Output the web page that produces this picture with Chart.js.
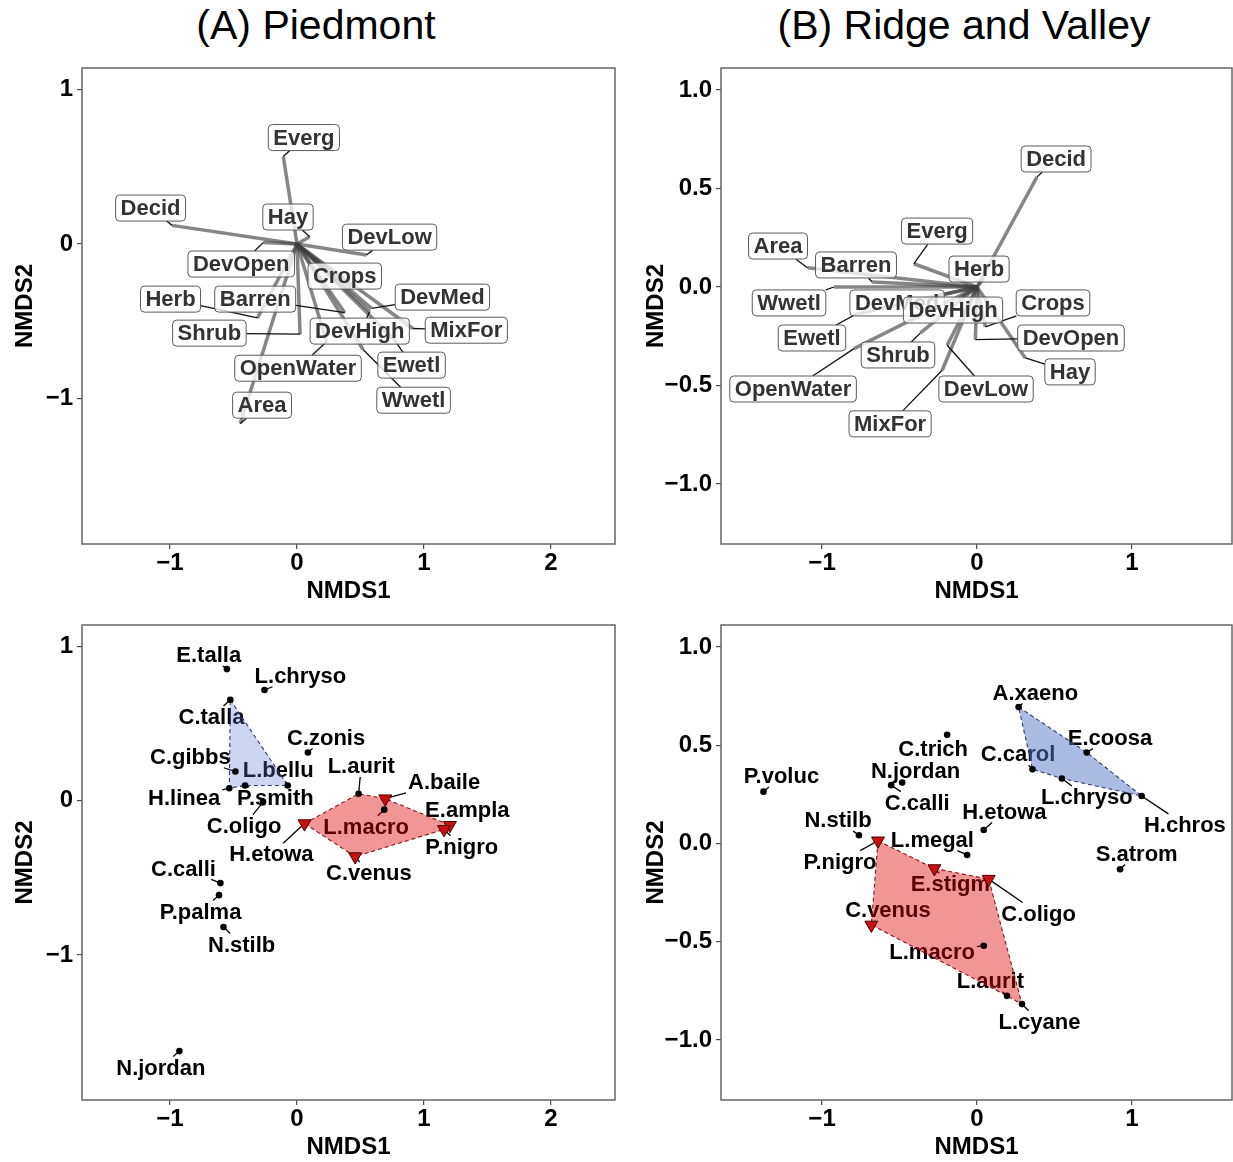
<!DOCTYPE html>
<html>
<head>
<meta charset="utf-8">
<script src="https://cdn.jsdelivr.net/npm/chart.js@4.4.0/dist/chart.umd.min.js"></script>
<style>
  html, body { margin: 0; padding: 0; background: #fff; width: 1233px; height: 1162px; overflow: hidden; }
  canvas { position: absolute; }
  .ptitle { position: absolute; top: 2px; width: 600px; text-align: center; font-family: "Liberation Sans", Arial, Helvetica, sans-serif; font-size: 41px; line-height: 46px; color: #000; }
</style>
</head>
<body>
<div class="ptitle" style="left:16px">(A) Piedmont</div>
<div class="ptitle" style="left:664px">(B) Ridge and Valley</div>
<canvas id="envA" width="632" height="560" style="left:0px;top:60px"></canvas>
<canvas id="envB" width="593" height="560" style="left:640px;top:60px"></canvas>
<canvas id="sppA" width="632" height="547" style="left:0px;top:615px"></canvas>
<canvas id="sppB" width="593" height="547" style="left:640px;top:615px"></canvas>
<script>
// ---------- Environmental vectors: Piedmont ----------
const piedVecNames = ['Everg','Decid','Hay','DevLow','DevOpen','Crops','DevMed','MixFor','Ewetl','Barren','Herb','Shrub','OpenWater','Wwetl','Area','DevHigh'];
const piedVecX = [-0.108,-0.984,0.100,0.547,-0.264,0.429,0.586,0.912,0.769,0.376,-0.311,0.024,0.233,0.520,-0.447,0.573];
const piedVecY = [0.566,0.121,0.047,-0.071,0.011,-0.276,-0.416,-0.546,-0.621,-0.444,-0.477,-0.583,-0.632,-0.682,-1.160,-0.438];

// ---------- Environmental vectors: Ridge and Valley ----------
const ridgeVecNames = ['Decid','Everg','Area','Barren','Herb','Wwetl','DevMed','Ewetl','Crops','DevOpen','Hay','Shrub','OpenWater','DevLow','MixFor','DevHigh'];
const ridgeVecX = [0.386,-0.408,-1.094,-0.676,0.043,-0.923,-0.350,-0.783,0.054,-0.011,0.311,-0.365,-0.794,-0.193,-0.225,-0.120];
const ridgeVecY = [0.558,0.118,0.098,0.025,0.042,0.000,-0.060,-0.139,-0.203,-0.267,-0.360,-0.233,-0.313,-0.296,-0.423,-0.060];

// ---------- Species scores: Piedmont ----------
const piedSpp = ['E.talla','L.chryso','C.talla','C.zonis','C.gibbs','L.bellu','H.linea','P.smith','C.oligo','L.aurit','A.baile','L.macro','E.ampla','P.nigro','H.etowa','C.venus','C.calli','P.palma','N.stilb','N.jordan'];
const piedSppX = [-0.552,-0.256,-0.525,0.086,-0.485,-0.073,-0.533,-0.409,-0.269,0.485,0.695,0.687,1.204,1.158,0.059,0.458,-0.603,-0.614,-0.579,-0.926];
const piedSppY = [0.853,0.718,0.654,0.313,0.189,0.099,0.081,0.099,-0.011,0.045,0.013,-0.058,-0.159,-0.186,-0.148,-0.362,-0.534,-0.612,-0.819,-1.623];
const piedTriangles = ['A.baile','E.ampla','P.nigro','H.etowa','C.venus'];
const piedHullBlue = ['C.talla','L.bellu','P.smith','H.linea'];
const piedHullRed = ['H.etowa','L.aurit','A.baile','E.ampla','P.nigro','C.venus'];

// ---------- Species scores: Ridge and Valley ----------
const ridgeSpp = ['A.xaeno','E.coosa','C.carol','L.chryso','H.chros','S.atrom','C.trich','N.jordan','C.calli','P.voluc','H.etowa','N.stilb','L.megal','P.nigro','E.stigm','C.oligo','C.venus','L.macro','L.aurit','L.cyane'];
const ridgeSppX = [0.268,0.708,0.358,0.547,1.062,0.923,-0.193,-0.483,-0.554,-1.378,0.043,-0.762,-0.064,-0.639,-0.275,0.075,-0.682,0.043,0.193,0.290];
const ridgeSppY = [0.695,0.463,0.378,0.331,0.242,-0.131,0.553,0.310,0.297,0.264,0.069,0.042,-0.058,0.014,-0.127,-0.181,-0.414,-0.520,-0.775,-0.817];
const ridgeTriangles = ['P.nigro','E.stigm','C.oligo','C.venus'];
const ridgeHullBlue = ['A.xaeno','E.coosa','H.chros','L.chryso','C.carol'];
const ridgeHullRed = ['P.nigro','E.stigm','C.oligo','L.cyane','L.aurit','C.venus'];

// ---------- Axis ticks ----------
const piedTicks = [-1, 0, 1, 2];
const piedTickLabels = ['\u22121', '0', '1', '2'];
const piedYTicks = [-1, 0, 1];
const piedYTickLabels = ['\u22121', '0', '1'];
const ridgeTicks = [-1, 0, 1];
const ridgeTickLabels = ['\u22121', '0', '1'];
const ridgeYTicks = [-1, -0.5, 0, 0.5, 1];
const ridgeYTickLabels = ['\u22121.0', '\u22120.5', '0.0', '0.5', '1.0'];

// ---------- Label placement (repelled positions, axis units) ----------
const piedVecLabelAt = [[0.054,0.689],[-1.153,0.233],[-0.071,0.175],[0.729,0.045],[-0.439,-0.129],[0.376,-0.207],[1.145,-0.343],[1.333,-0.557],[0.902,-0.783],[-0.329,-0.356],[-0.996,-0.356],[-0.690,-0.576],[0.008,-0.803],[0.918,-1.010],[-0.275,-1.042],[0.494,-0.563]];
const ridgeVecLabelAt = [[0.510,0.650],[-0.258,0.284],[-1.284,0.208],[-0.781,0.112],[0.013,0.091],[-1.213,-0.081],[-0.516,-0.081],[-1.065,-0.259],[0.490,-0.081],[0.606,-0.259],[0.600,-0.431],[-0.510,-0.345],[-1.187,-0.518],[0.058,-0.518],[-0.561,-0.695],[-0.155,-0.117]];
const piedSppLabelAt = [[-0.695,0.945],[0.027,0.810],[-0.673,0.542],[0.229,0.409],[-0.840,0.285],[-0.148,0.199],[-0.889,0.017],[-0.170,0.017],[-0.417,-0.161],[0.506,0.225],[1.158,0.120],[0.544,-0.169],[1.341,-0.062],[1.298,-0.298],[-0.202,-0.347],[0.566,-0.469],[-0.894,-0.439],[-0.759,-0.718],[-0.436,-0.932],[-1.072,-1.730]];
const ridgeSppLabelAt = [[0.376,0.768],[0.858,0.539],[0.264,0.454],[0.708,0.237],[1.341,0.095],[1.030,-0.051],[-0.283,0.483],[-0.397,0.369],[-0.386,0.208],[-1.262,0.344],[0.176,0.163],[-0.897,0.119],[-0.288,0.020],[-0.884,-0.092],[-0.172,-0.207],[0.397,-0.356],[-0.575,-0.339],[-0.290,-0.554],[0.086,-0.698],[0.403,-0.907]];

const FONT = '"Liberation Sans", Arial, Helvetica, sans-serif';

// point on the label box outline along the ray from its centre toward (px, py)
function boxEdge(cx, cy, hw, hh, px, py) {
  const dx = px - cx, dy = py - cy;
  if (Math.abs(dx) <= hw && Math.abs(dy) <= hh) return null;
  const t = Math.min(dx === 0 ? Infinity : hw / Math.abs(dx), dy === 0 ? Infinity : hh / Math.abs(dy));
  return [cx + dx * t, cy + dy * t];
}

function roundedBox(ctx, x, y, w, h, r) {
  ctx.beginPath();
  ctx.moveTo(x + r, y);
  ctx.lineTo(x + w - r, y); ctx.quadraticCurveTo(x + w, y, x + w, y + r);
  ctx.lineTo(x + w, y + h - r); ctx.quadraticCurveTo(x + w, y + h, x + w - r, y + h);
  ctx.lineTo(x + r, y + h); ctx.quadraticCurveTo(x, y + h, x, y + h - r);
  ctx.lineTo(x, y + r); ctx.quadraticCurveTo(x, y, x + r, y);
  ctx.closePath();
}

// full panel border
const panelFrame = {
  id: 'panelFrame',
  afterDraw(chart) {
    const { ctx, chartArea: a } = chart;
    ctx.save();
    ctx.strokeStyle = '#666';
    ctx.lineWidth = 1.5;
    ctx.strokeRect(a.left, a.top, a.right - a.left, a.bottom - a.top);
    ctx.restore();
  }
};

// boxed labels for the fitted vectors, joined to the vector tips
function vectorLabels(names, vx, vy, at) {
  return {
    id: 'vectorLabels',
    afterDatasetsDraw(chart) {
      const { ctx, scales: { x, y }, chartArea: a } = chart;
      ctx.save();
      ctx.beginPath(); ctx.rect(a.left, a.top, a.right - a.left, a.bottom - a.top); ctx.clip();
      ctx.font = 'bold 22px ' + FONT;
      const boxes = names.map((n, i) => ({
        n,
        w: ctx.measureText(n).width + 10, h: 26,
        cx: x.getPixelForValue(at[i][0]), cy: y.getPixelForValue(at[i][1]),
        px: x.getPixelForValue(vx[i]), py: y.getPixelForValue(vy[i])
      }));
      ctx.strokeStyle = '#111';
      ctx.lineWidth = 1.3;
      boxes.forEach(b => {
        const e = boxEdge(b.cx, b.cy, b.w / 2, b.h / 2, b.px, b.py);
        if (e && Math.hypot(e[0] - b.px, e[1] - b.py) > 3) {
          ctx.beginPath(); ctx.moveTo(b.px, b.py); ctx.lineTo(e[0], e[1]); ctx.stroke();
        }
      });
      ctx.textAlign = 'center';
      ctx.textBaseline = 'middle';
      boxes.forEach(b => {
        roundedBox(ctx, b.cx - b.w / 2, b.cy - b.h / 2, b.w, b.h, 4);
        ctx.fillStyle = 'rgba(255,255,255,0.78)';
        ctx.fill();
        ctx.strokeStyle = '#5a5a5a';
        ctx.lineWidth = 1;
        ctx.stroke();
        ctx.fillStyle = '#333';
        ctx.fillText(b.n, b.cx, b.cy + 1);
      });
      ctx.restore();
    }
  };
}

// species names with short leader segments, drawn beneath the hulls
function speciesLabels(names, sx, sy, at) {
  return {
    id: 'speciesLabels',
    beforeDatasetsDraw(chart) {
      const { ctx, scales: { x, y } } = chart;
      ctx.save();
      ctx.font = 'bold 22px ' + FONT;
      const items = names.map((n, i) => ({
        n, w: ctx.measureText(n).width,
        cx: x.getPixelForValue(at[i][0]), cy: y.getPixelForValue(at[i][1]),
        px: x.getPixelForValue(sx[i]), py: y.getPixelForValue(sy[i])
      }));
      ctx.strokeStyle = '#000';
      ctx.lineWidth = 1.3;
      items.forEach(b => {
        const e = boxEdge(b.cx, b.cy, b.w / 2 + 2, 11, b.px, b.py);
        if (e && Math.hypot(e[0] - b.px, e[1] - b.py) > 4) {
          ctx.beginPath(); ctx.moveTo(b.px, b.py); ctx.lineTo(e[0], e[1]); ctx.stroke();
        }
      });
      ctx.fillStyle = '#000';
      ctx.textAlign = 'center';
      ctx.textBaseline = 'middle';
      items.forEach(b => ctx.fillText(b.n, b.cx, b.cy + 1));
      ctx.restore();
    }
  };
}

// translucent fill for hull datasets, using the points the line controller placed
const hullFill = {
  id: 'hullFill',
  beforeDatasetDraw(chart, args) {
    const ds = chart.data.datasets[args.index];
    if (!ds.hullColor) return;
    const pts = args.meta.data;
    const ctx = chart.ctx;
    ctx.save();
    ctx.beginPath();
    pts.forEach((p, i) => i ? ctx.lineTo(p.x, p.y) : ctx.moveTo(p.x, p.y));
    ctx.closePath();
    ctx.fillStyle = ds.hullColor;
    ctx.fill();
    ctx.restore();
  }
};

const tickFont = { family: FONT, size: 24, weight: 'bold', lineHeight: 1.2 };
const titleFont = { family: FONT, size: 24, weight: 'bold', lineHeight: 1.2 };

function makeChart(id, g, ax, datasets, plugins) {
  return new Chart(document.getElementById(id), {
    type: 'scatter',
    data: { datasets },
    options: {
      responsive: false,
      animation: false,
      events: [],
      layout: { autoPadding: false, padding: { top: g.padTop, right: g.padRight, left: 0, bottom: 0 } },
      plugins: { legend: { display: false }, tooltip: { enabled: false } },
      scales: {
        x: {
          type: 'linear', position: 'bottom', min: ax.xMin, max: ax.xMax,
          afterBuildTicks: s => { s.ticks = ax.xTicks.map(v => ({ value: v })); },
          afterFit: s => { s.height = g.xH; s.paddingLeft = 0; s.paddingRight = 0; },
          ticks: { callback: v => ax.xLabels[ax.xTicks.indexOf(v)], font: tickFont, color: '#000', padding: 0, maxRotation: 0, autoSkip: false },
          grid: { drawOnChartArea: false, drawTicks: true, tickLength: 5, color: '#4d4d4d', lineWidth: 1.2 },
          border: { display: false },
          title: { display: true, text: 'NMDS1', font: titleFont, color: '#000', padding: { top: 0, bottom: g.xTitlePad } }
        },
        y: {
          type: 'linear', position: 'left', min: ax.yMin, max: ax.yMax,
          afterBuildTicks: s => { s.ticks = ax.yTicks.map(v => ({ value: v })); },
          afterFit: s => { s.width = g.yW; s.paddingTop = 0; s.paddingBottom = 0; },
          ticks: { callback: v => ax.yLabels[ax.yTicks.indexOf(v)], font: tickFont, color: '#000', padding: 4, autoSkip: false },
          grid: { drawOnChartArea: false, drawTicks: true, tickLength: 5, color: '#4d4d4d', lineWidth: 1.2 },
          border: { display: false },
          title: { display: true, text: 'NMDS2', font: titleFont, color: '#000', padding: { top: g.yTitlePad, bottom: 0 } }
        }
      }
    },
    plugins: [hullFill, panelFrame].concat(plugins)
  });
}

function vectorDatasets(vx, vy) {
  return vx.map((v, i) => ({
    data: [{ x: 0, y: 0 }, { x: v, y: vy[i] }],
    showLine: true,
    borderColor: 'rgba(60,60,60,0.62)',
    borderWidth: 3.5,
    pointRadius: 0
  }));
}

function speciesDatasets(names, sx, sy, triangles, hulls) {
  const idx = n => names.indexOf(n);
  const dots = [], tris = [];
  names.forEach((n, i) => (triangles.includes(n) ? tris : dots).push({ x: sx[i], y: sy[i] }));
  const sets = hulls.map(h => ({
    data: h.members.concat([h.members[0]]).map(n => ({ x: sx[idx(n)], y: sy[idx(n)] })),
    showLine: true,
    borderColor: h.line,
    borderWidth: 1.1,
    borderDash: [4, 3],
    pointRadius: 0,
    hullColor: h.fill,
    order: 5
  }));
  sets.push({ data: dots, pointRadius: 3.3, pointStyle: 'circle', backgroundColor: '#000', borderColor: '#000', borderWidth: 0, order: 0 });
  sets.push({ data: tris, pointRadius: 7.5, pointStyle: 'triangle', pointRotation: 180, backgroundColor: '#c81010', borderColor: '#4a0000', borderWidth: 1, order: 0 });
  return sets;
}

const piedAxes = { xMin: -1.693, xMax: 2.504, yMin: -1.94, yMax: 1.139, xTicks: piedTicks, xLabels: piedTickLabels, yTicks: piedYTicks, yLabels: piedYTickLabels };
const ridgeAxes = { xMin: -1.652, xMax: 1.645, yMin: -1.305, yMax: 1.112, xTicks: ridgeTicks, xLabels: ridgeTickLabels, yTicks: ridgeYTicks, yLabels: ridgeYTickLabels };

const geoTopA = { padTop: 8, padRight: 17, yW: 82, xH: 76, xTitlePad: 14.6, yTitlePad: 10.6 };
const geoTopB = { padTop: 8, padRight: 1, yW: 81, xH: 76, xTitlePad: 14.6, yTitlePad: 1.6 };
const geoBotA = { padTop: 10, padRight: 17, yW: 82, xH: 62, xTitlePad: 0.6, yTitlePad: 10.6 };
const geoBotB = { padTop: 10, padRight: 1, yW: 81, xH: 62, xTitlePad: 0.6, yTitlePad: 1.6 };

makeChart('envA', geoTopA, piedAxes, vectorDatasets(piedVecX, piedVecY),
  [vectorLabels(piedVecNames, piedVecX, piedVecY, piedVecLabelAt)]);
makeChart('envB', geoTopB, ridgeAxes, vectorDatasets(ridgeVecX, ridgeVecY),
  [vectorLabels(ridgeVecNames, ridgeVecX, ridgeVecY, ridgeVecLabelAt)]);

makeChart('sppA', geoBotA, piedAxes,
  speciesDatasets(piedSpp, piedSppX, piedSppY, piedTriangles, [
    { members: piedHullBlue, fill: 'rgba(90,120,200,0.30)', line: '#2c3b70' },
    { members: piedHullRed, fill: 'rgba(220,0,0,0.41)', line: '#8a1010' }
  ]),
  [speciesLabels(piedSpp, piedSppX, piedSppY, piedSppLabelAt)]);
makeChart('sppB', geoBotB, ridgeAxes,
  speciesDatasets(ridgeSpp, ridgeSppX, ridgeSppY, ridgeTriangles, [
    { members: ridgeHullBlue, fill: 'rgba(90,120,200,0.50)', line: '#2c3b70' },
    { members: ridgeHullRed, fill: 'rgba(220,0,0,0.41)', line: '#8a1010' }
  ]),
  [speciesLabels(ridgeSpp, ridgeSppX, ridgeSppY, ridgeSppLabelAt)]);
</script>
</body>
</html>
